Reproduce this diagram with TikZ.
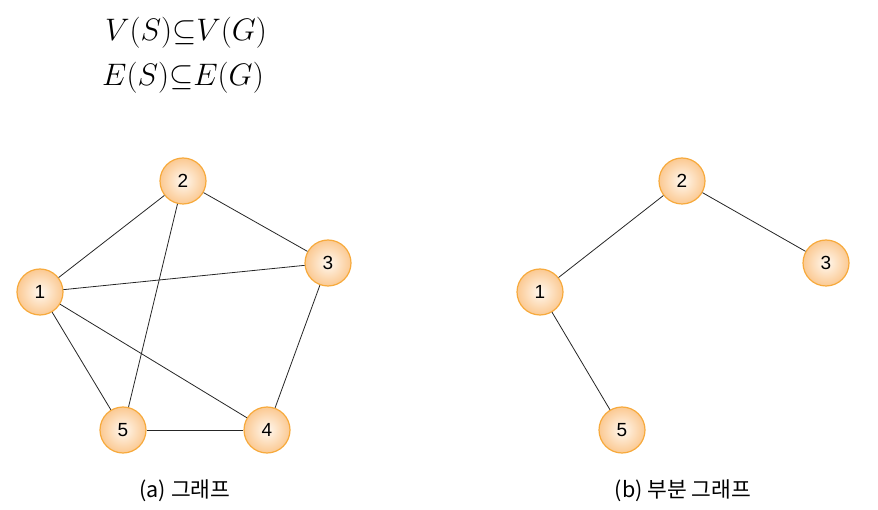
\documentclass[tikz,border=0pt]{standalone}
\usepackage{fontspec}
\setsansfont{Liberation Sans}
\newfontfamily\kofont{Noto Sans CJK KR}
\definecolor{vtxedge}{HTML}{F7AA3C}
\definecolor{vtxfill}{HTML}{FBC992}
\definecolor{vtxcore}{HTML}{FFF8F0}

\begin{document}
\begin{tikzpicture}[x=1pt,y=-1pt]
\tikzset{vtx/.style={circle, draw=vtxedge, line width=1.2pt, minimum size=46pt,
  inner sep=0pt, inner color=vtxcore, outer color=vtxfill,
  font=\sffamily\fontsize{19}{21}\selectfont},
  edge/.style={line width=0.8pt, black!85},
  caption/.style={font=\kofont\fontsize{21.5}{24}\selectfont},
  formula/.style={scale=1.25, font=\fontsize{24}{28}\selectfont}}
\useasboundingbox (0,0) rectangle (878,510);
% definitions
\node[formula] (defv) at (186,33) {$V(S){\subseteq}V(G)$};
\node[formula] (defe) at (183,78) {$E(S){\subseteq}E(G)$};
% (a) graph
\node[vtx] (a1) at (40,292) {1};
\node[vtx] (a2) at (183,181) {2};
\node[vtx] (a3) at (328,263) {3};
\node[vtx] (a4) at (267,430) {4};
\node[vtx] (a5) at (123,430) {5};
\draw[edge] (a1) -- (a2);
\draw[edge] (a1) -- (a3);
\draw[edge] (a1) -- (a5);
\draw[edge] (a1) -- (a4);
\draw[edge] (a2) -- (a3);
\draw[edge] (a2) -- (a5);
\draw[edge] (a3) -- (a4);
\draw[edge] (a5) -- (a4);
\node[caption] (capa) at (185,491) {(a) 그래프};
% (b) subgraph
\node[vtx] (b1) at (540,292) {1};
\node[vtx] (b2) at (682,181) {2};
\node[vtx] (b3) at (826,263) {3};
\node[vtx] (b5) at (622,430) {5};
\draw[edge] (b1) -- (b2);
\draw[edge] (b2) -- (b3);
\draw[edge] (b1) -- (b5);
\node[caption] (capb) at (683,491) {(b) 부분 그래프};
\end{tikzpicture}
\end{document}
